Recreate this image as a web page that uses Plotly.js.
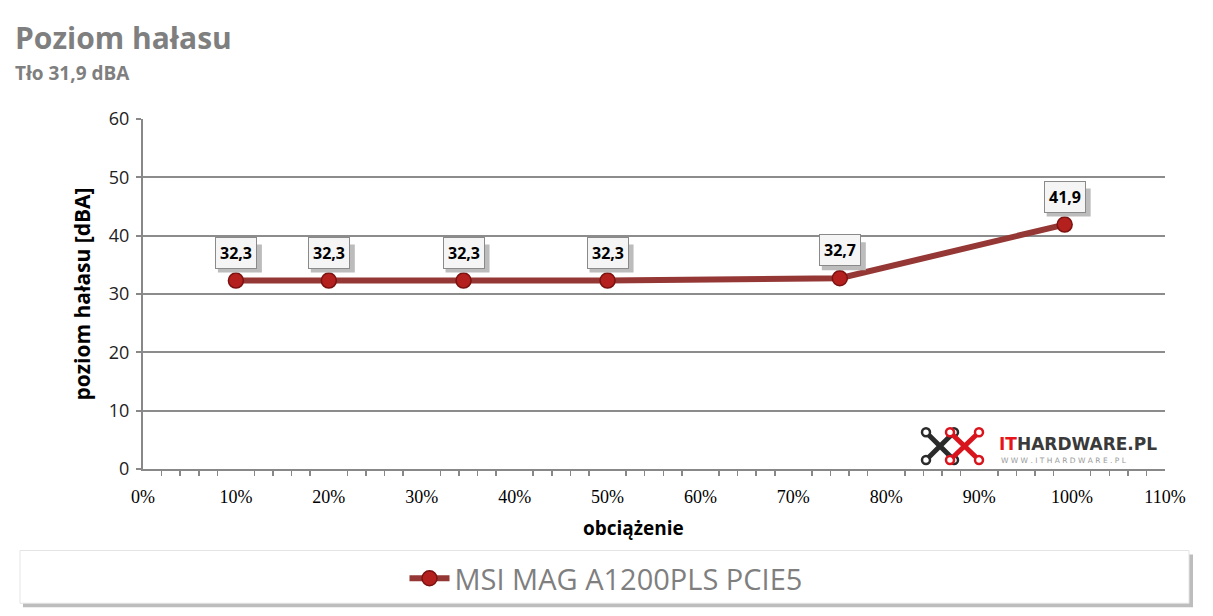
<!DOCTYPE html>
<html><head><meta charset="utf-8">
<script src="https://cdn.plot.ly/plotly-3.0.1.min.js"></script>
<style>html,body{margin:0;padding:0;background:#fff}#chart{width:1213px;height:616px}</style>
</head><body><div id="chart"></div>
<script>
const seriesName = 'MSI MAG A1200PLS PCIE5';
const loadPct = [10, 20, 34.5, 50, 75, 99.2];
const noiseDbA = [32.3, 32.3, 32.3, 32.3, 32.7, 41.9];
const valueLabels = ['32,3', '32,3', '32,3', '32,3', '32,7', '41,9'];
const chartTitle = 'Poziom hałasu';
const chartSubtitle = 'Tło 31,9 dBA';
const xTitle = 'obciążenie';
const yTitle = 'poziom hałasu [dBA]';

const L = 143, R = 1165, T = 119, B = 471;
const W = R - L, H = B - T;
const px = v => (v - L) / W;
const py = v => (B - v) / H;
const FONT = 'Open Sans, Noto Sans, sans-serif';

const trace = {
  x: loadPct, y: noiseDbA, type: 'scatter', mode: 'lines+markers', name: seriesName,
  line: {color: '#953735', width: 6},
  marker: {size: 15, color: '#b3201e', line: {color: '#7a1210', width: 1.5}},
  cliponaxis: false
};

const annotations = [];
const shapes = [];
// titles
annotations.push({xref:'paper', yref:'paper', x: px(13), y: py(37), xanchor:'left', yanchor:'middle',
  text: '<b>' + chartTitle + '</b>', showarrow:false, font:{family:FONT, size:30, color:'#7f7f7f'}});
annotations.push({xref:'paper', yref:'paper', x: px(13), y: py(73), xanchor:'left', yanchor:'middle',
  text: '<b>' + chartSubtitle + '</b>', showarrow:false, font:{family:FONT, size:19, color:'#7f7f7f'}});
// x title
annotations.push({xref:'paper', yref:'paper', x: px(633), y: py(530), xanchor:'center', yanchor:'middle',
  text: '<b>' + xTitle + '</b>', showarrow:false, font:{family:FONT, size:19, color:'#000'}});
// data labels with shadow
loadPct.forEach((xv, i) => {
  shapes.push({type:'rect', xref:'x', yref:'y', xsizemode:'pixel', ysizemode:'pixel', xanchor: xv, yanchor: noiseDbA[i],
    x0: -18, x1: 26, y0: 8, y1: 36, fillcolor:'#bcbcbc', line:{width:0}, layer:'above'});
  annotations.push({x: xv, y: noiseDbA[i], xref:'x', yref:'y', text: '<b>' + valueLabels[i] + '</b>', showarrow:false,
    yshift: 12, yanchor:'bottom', bgcolor:'#f5f5f5', bordercolor:'#8a8a8a', borderwidth:1, borderpad:4,
    font:{family:FONT, size:16, color:'#000'}});
});
// logo text
annotations.push({xref:'paper', yref:'paper', x: px(997), y: py(446), xanchor:'left', yanchor:'middle', showarrow:false,
  text: '<span style="color:#e8141c">IT</span>HARDWARE.PL', font:{family:'DejaVu Sans, sans-serif', size:17, color:'#3a3a3a', weight:700}});
annotations.push({xref:'paper', yref:'paper', x: px(999), y: py(462), xanchor:'left', yanchor:'middle', showarrow:false,
  text: 'W W W . I T H A R D W A R E . P L', font:{family:'DejaVu Sans, sans-serif', size:7.5, color:'#9a9a9a'}});

// legend box shadow + box
shapes.push({type:'rect', xref:'paper', yref:'paper', x0: px(23), x1: px(1193), y0: py(610), y1: py(557), fillcolor:'#bdbdbd', line:{width:0}, layer:'below'});
shapes.push({type:'rect', xref:'paper', yref:'paper', x0: px(20), x1: px(1189), y0: py(606), y1: py(553), fillcolor:'#ffffff', line:{color:'#e4e4e4', width:1}, layer:'below'});
// logo icon
function xIcon(x0, y0, x1, y1, col) {
  shapes.push({type:'line', xref:'paper', yref:'paper', x0: px(x0), y0: py(y0), x1: px(x1), y1: py(y1), line:{color:col, width:5}});
  shapes.push({type:'line', xref:'paper', yref:'paper', x0: px(x0), y0: py(y1), x1: px(x1), y1: py(y0), line:{color:col, width:5}});
  [[x0,y0],[x1,y1],[x0,y1],[x1,y0]].forEach(p => {
    shapes.push({type:'circle', xref:'paper', yref:'paper', x0: px(p[0]-4), x1: px(p[0]+4), y0: py(p[1]+4), y1: py(p[1]-4), fillcolor:'#ffffff', line:{color:col, width:2.5}});
  });
}
xIcon(926, 434, 954, 462, '#2b2b2b');
xIcon(950, 434, 979, 462, '#d8141c');

const layout = {
  width: 1213, height: 616,
  margin: {l: L, r: 1213 - R, t: T, b: 616 - B, pad: 0},
  paper_bgcolor: '#ffffff', plot_bgcolor: '#ffffff',
  showlegend: true,
  legend: {orientation:'h', x: px(606), xanchor:'center', xref:'paper', y: py(581), yanchor:'middle', bgcolor:'rgba(0,0,0,0)',
    font:{family:FONT, size:29, color:'#7f7f7f'}, itemwidth: 40},
  xaxis: {
    range: [0, 110], dtick: 10, ticksuffix: '%', showgrid: false, zeroline: false,
    showline: true, linecolor: '#888888', linewidth: 2,
    ticks: '', tickfont: {family:'Liberation Serif, serif', size:18, color:'#000'}, ticklabelstandoff: 10,
    minor: {dtick: 2, ticks:'outside', ticklen: 5, tickcolor:'#888888', tickwidth: 1.5, showgrid:false},
    fixedrange: true
  },
  yaxis: {
    range: [0, 60], dtick: 10, showgrid: true, gridcolor: '#8c8c8c', gridwidth: 2, zeroline: false,
    showline: true, linecolor: '#888888', linewidth: 2,
    ticks: 'outside', ticklen: 5, tickcolor: '#888888', tickwidth: 2,
    tickfont: {family:FONT, size:18, color:'#222'}, ticklabelstandoff: 3,
    title: {text: '<b>' + yTitle + '</b>', font:{family:FONT, size:21, color:'#000'}, standoff: 12},
    fixedrange: true
  },
  annotations: annotations,
  shapes: shapes
};

Plotly.newPlot('chart', [trace], layout, {displayModeBar: false, staticPlot: true});
</script>
</body></html>
